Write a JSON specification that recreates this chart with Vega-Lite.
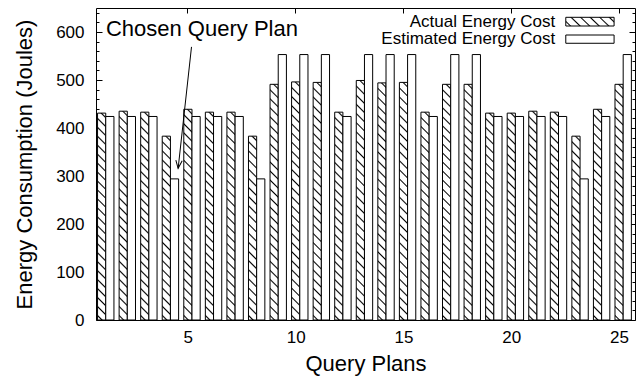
{
  "$schema": "https://vega.github.io/schema/vega-lite/v6.json",
  "width": 539,
  "height": 312,
  "autosize": {"type": "none"},
  "padding": {"left": 96, "top": 8, "right": 9, "bottom": 57},
  "background": "white",
  "config": {
    "font": "Liberation Sans",
    "view": {"stroke": "black", "strokeWidth": 1},
    "axis": {"labelFont": "Liberation Sans", "titleFont": "Liberation Sans", "labelColor": "black", "titleColor": "black", "tickColor": "black", "domain": false, "grid": false, "titleFontWeight": "normal"}
  },
  "datasets": {
    "notes": [
      {"kind": "label", "x": 1.2, "y": 606, "text": "Chosen Query Plan"},
      {"kind": "arrow", "x": 5.17, "y": 569, "x2": 4.55, "y2": 316},
      {"kind": "head", "x": 4.55, "y": 316},
      {"kind": "swatch", "series": "Actual", "x": 22.53, "x2": 24.77, "y": 612.5, "y2": 630.6},
      {"kind": "swatch", "series": "Estimated", "x": 22.53, "x2": 24.77, "y": 576.5, "y2": 593.75},
      {"kind": "legendtext", "x": 22.04, "y": 621.5, "text": "Actual Energy Cost"},
      {"kind": "legendtext", "x": 22.04, "y": 585, "text": "Estimated Energy Cost"}
    ]
  },
  "layer": [
    {
      "data": {"values": [
        {"plan": 1, "series": "Actual", "energy": 431}, {"plan": 1, "series": "Estimated", "energy": 424},
        {"plan": 2, "series": "Actual", "energy": 435}, {"plan": 2, "series": "Estimated", "energy": 424},
        {"plan": 3, "series": "Actual", "energy": 433}, {"plan": 3, "series": "Estimated", "energy": 424},
        {"plan": 4, "series": "Actual", "energy": 383}, {"plan": 4, "series": "Estimated", "energy": 294},
        {"plan": 5, "series": "Actual", "energy": 439}, {"plan": 5, "series": "Estimated", "energy": 424},
        {"plan": 6, "series": "Actual", "energy": 433}, {"plan": 6, "series": "Estimated", "energy": 424},
        {"plan": 7, "series": "Actual", "energy": 433}, {"plan": 7, "series": "Estimated", "energy": 424},
        {"plan": 8, "series": "Actual", "energy": 383}, {"plan": 8, "series": "Estimated", "energy": 294},
        {"plan": 9, "series": "Actual", "energy": 491}, {"plan": 9, "series": "Estimated", "energy": 553},
        {"plan": 10, "series": "Actual", "energy": 496}, {"plan": 10, "series": "Estimated", "energy": 553},
        {"plan": 11, "series": "Actual", "energy": 495}, {"plan": 11, "series": "Estimated", "energy": 553},
        {"plan": 12, "series": "Actual", "energy": 433}, {"plan": 12, "series": "Estimated", "energy": 424},
        {"plan": 13, "series": "Actual", "energy": 499}, {"plan": 13, "series": "Estimated", "energy": 553},
        {"plan": 14, "series": "Actual", "energy": 494}, {"plan": 14, "series": "Estimated", "energy": 553},
        {"plan": 15, "series": "Actual", "energy": 495}, {"plan": 15, "series": "Estimated", "energy": 553},
        {"plan": 16, "series": "Actual", "energy": 433}, {"plan": 16, "series": "Estimated", "energy": 424},
        {"plan": 17, "series": "Actual", "energy": 491}, {"plan": 17, "series": "Estimated", "energy": 553},
        {"plan": 18, "series": "Actual", "energy": 491}, {"plan": 18, "series": "Estimated", "energy": 553},
        {"plan": 19, "series": "Actual", "energy": 431}, {"plan": 19, "series": "Estimated", "energy": 424},
        {"plan": 20, "series": "Actual", "energy": 431}, {"plan": 20, "series": "Estimated", "energy": 424},
        {"plan": 21, "series": "Actual", "energy": 435}, {"plan": 21, "series": "Estimated", "energy": 424},
        {"plan": 22, "series": "Actual", "energy": 433}, {"plan": 22, "series": "Estimated", "energy": 424},
        {"plan": 23, "series": "Actual", "energy": 383}, {"plan": 23, "series": "Estimated", "energy": 294},
        {"plan": 24, "series": "Actual", "energy": 439}, {"plan": 24, "series": "Estimated", "energy": 424},
        {"plan": 25, "series": "Actual", "energy": 491}, {"plan": 25, "series": "Estimated", "energy": 553}
      ]},
      "mark": {"type": "bar", "stroke": "black", "strokeWidth": 1},
      "encoding": {
        "x": {"field": "plan", "type": "ordinal",
          "scale": {"paddingInner": 0.24, "paddingOuter": 0.12, "align": 0.3},
          "axis": {"orient": "top", "values": [5, 10, 15, 20, 25], "labels": false, "tickSize": -5, "bandPosition": 0.25, "title": null}},
        "xOffset": {"field": "series", "type": "nominal", "scale": {"domain": ["Actual", "Estimated"], "paddingInner": 0, "paddingOuter": 0}},
        "y": {"field": "energy", "type": "quantitative", "scale": {"domain": [0, 650], "nice": false},
          "axis": {"orient": "left", "values": [0, 100, 200, 300, 400, 500, 600],
            "tickSize": -6, "labelPadding": 18, "labelFontSize": 17,
            "title": "Energy Consumption (Joules)", "titleFontSize": 22, "titleX": -72, "titleY": 156, "titleAngle": -90, "titleBaseline": "middle", "titleAlign": "center"}},
        "fill": {
          "condition": [
            {"test": "datum.series === 'Estimated'", "value": "white"},
            {"test": "datum.energy < 400", "value": {"gradient": "linear", "x1": 1, "y1": 0, "x2": 0.95354, "y2": 1.0425, "stops": [
              {"offset": 0.0158, "color": "#fff"}, {"offset": 0.0238, "color": "#000"}, {"offset": 0.0318, "color": "#fff"},
              {"offset": 0.0634, "color": "#fff"}, {"offset": 0.0714, "color": "#000"}, {"offset": 0.0794, "color": "#fff"},
              {"offset": 0.1110, "color": "#fff"}, {"offset": 0.1190, "color": "#000"}, {"offset": 0.1270, "color": "#fff"},
              {"offset": 0.1587, "color": "#fff"}, {"offset": 0.1667, "color": "#000"}, {"offset": 0.1747, "color": "#fff"},
              {"offset": 0.2063, "color": "#fff"}, {"offset": 0.2143, "color": "#000"}, {"offset": 0.2223, "color": "#fff"},
              {"offset": 0.2539, "color": "#fff"}, {"offset": 0.2619, "color": "#000"}, {"offset": 0.2699, "color": "#fff"},
              {"offset": 0.3015, "color": "#fff"}, {"offset": 0.3095, "color": "#000"}, {"offset": 0.3175, "color": "#fff"},
              {"offset": 0.3491, "color": "#fff"}, {"offset": 0.3571, "color": "#000"}, {"offset": 0.3651, "color": "#fff"},
              {"offset": 0.3968, "color": "#fff"}, {"offset": 0.4048, "color": "#000"}, {"offset": 0.4128, "color": "#fff"},
              {"offset": 0.4444, "color": "#fff"}, {"offset": 0.4524, "color": "#000"}, {"offset": 0.4604, "color": "#fff"},
              {"offset": 0.4920, "color": "#fff"}, {"offset": 0.5000, "color": "#000"}, {"offset": 0.5080, "color": "#fff"},
              {"offset": 0.5396, "color": "#fff"}, {"offset": 0.5476, "color": "#000"}, {"offset": 0.5556, "color": "#fff"},
              {"offset": 0.5872, "color": "#fff"}, {"offset": 0.5952, "color": "#000"}, {"offset": 0.6032, "color": "#fff"},
              {"offset": 0.6349, "color": "#fff"}, {"offset": 0.6429, "color": "#000"}, {"offset": 0.6509, "color": "#fff"},
              {"offset": 0.6825, "color": "#fff"}, {"offset": 0.6905, "color": "#000"}, {"offset": 0.6985, "color": "#fff"},
              {"offset": 0.7301, "color": "#fff"}, {"offset": 0.7381, "color": "#000"}, {"offset": 0.7461, "color": "#fff"},
              {"offset": 0.7777, "color": "#fff"}, {"offset": 0.7857, "color": "#000"}, {"offset": 0.7937, "color": "#fff"},
              {"offset": 0.8253, "color": "#fff"}, {"offset": 0.8333, "color": "#000"}, {"offset": 0.8413, "color": "#fff"},
              {"offset": 0.8730, "color": "#fff"}, {"offset": 0.8810, "color": "#000"}, {"offset": 0.8890, "color": "#fff"},
              {"offset": 0.9206, "color": "#fff"}, {"offset": 0.9286, "color": "#000"}, {"offset": 0.9366, "color": "#fff"},
              {"offset": 0.9682, "color": "#fff"}, {"offset": 0.9762, "color": "#000"}, {"offset": 0.9842, "color": "#fff"}
            ]}},
            {"test": "datum.energy < 460", "value": {"gradient": "linear", "x1": 1, "y1": 0, "x2": 0.959086, "y2": 1.03781, "stops": [
              {"offset": 0.0138, "color": "#fff"}, {"offset": 0.0208, "color": "#000"}, {"offset": 0.0278, "color": "#fff"},
              {"offset": 0.0555, "color": "#fff"}, {"offset": 0.0625, "color": "#000"}, {"offset": 0.0695, "color": "#fff"},
              {"offset": 0.0972, "color": "#fff"}, {"offset": 0.1042, "color": "#000"}, {"offset": 0.1112, "color": "#fff"},
              {"offset": 0.1388, "color": "#fff"}, {"offset": 0.1458, "color": "#000"}, {"offset": 0.1528, "color": "#fff"},
              {"offset": 0.1805, "color": "#fff"}, {"offset": 0.1875, "color": "#000"}, {"offset": 0.1945, "color": "#fff"},
              {"offset": 0.2222, "color": "#fff"}, {"offset": 0.2292, "color": "#000"}, {"offset": 0.2362, "color": "#fff"},
              {"offset": 0.2638, "color": "#fff"}, {"offset": 0.2708, "color": "#000"}, {"offset": 0.2778, "color": "#fff"},
              {"offset": 0.3055, "color": "#fff"}, {"offset": 0.3125, "color": "#000"}, {"offset": 0.3195, "color": "#fff"},
              {"offset": 0.3472, "color": "#fff"}, {"offset": 0.3542, "color": "#000"}, {"offset": 0.3612, "color": "#fff"},
              {"offset": 0.3888, "color": "#fff"}, {"offset": 0.3958, "color": "#000"}, {"offset": 0.4028, "color": "#fff"},
              {"offset": 0.4305, "color": "#fff"}, {"offset": 0.4375, "color": "#000"}, {"offset": 0.4445, "color": "#fff"},
              {"offset": 0.4722, "color": "#fff"}, {"offset": 0.4792, "color": "#000"}, {"offset": 0.4862, "color": "#fff"},
              {"offset": 0.5138, "color": "#fff"}, {"offset": 0.5208, "color": "#000"}, {"offset": 0.5278, "color": "#fff"},
              {"offset": 0.5555, "color": "#fff"}, {"offset": 0.5625, "color": "#000"}, {"offset": 0.5695, "color": "#fff"},
              {"offset": 0.5972, "color": "#fff"}, {"offset": 0.6042, "color": "#000"}, {"offset": 0.6112, "color": "#fff"},
              {"offset": 0.6388, "color": "#fff"}, {"offset": 0.6458, "color": "#000"}, {"offset": 0.6528, "color": "#fff"},
              {"offset": 0.6805, "color": "#fff"}, {"offset": 0.6875, "color": "#000"}, {"offset": 0.6945, "color": "#fff"},
              {"offset": 0.7222, "color": "#fff"}, {"offset": 0.7292, "color": "#000"}, {"offset": 0.7362, "color": "#fff"},
              {"offset": 0.7638, "color": "#fff"}, {"offset": 0.7708, "color": "#000"}, {"offset": 0.7778, "color": "#fff"},
              {"offset": 0.8055, "color": "#fff"}, {"offset": 0.8125, "color": "#000"}, {"offset": 0.8195, "color": "#fff"},
              {"offset": 0.8472, "color": "#fff"}, {"offset": 0.8542, "color": "#000"}, {"offset": 0.8612, "color": "#fff"},
              {"offset": 0.8888, "color": "#fff"}, {"offset": 0.8958, "color": "#000"}, {"offset": 0.9028, "color": "#fff"},
              {"offset": 0.9305, "color": "#fff"}, {"offset": 0.9375, "color": "#000"}, {"offset": 0.9445, "color": "#fff"},
              {"offset": 0.9722, "color": "#fff"}, {"offset": 0.9792, "color": "#000"}, {"offset": 0.9862, "color": "#fff"}
            ]}}
          ],
          "value": {"gradient": "linear", "x1": 1, "y1": 0, "x2": 0.964401, "y2": 1.033227, "stops": [
            {"offset": 0.0125, "color": "#fff"}, {"offset": 0.0185, "color": "#000"}, {"offset": 0.0245, "color": "#fff"},
            {"offset": 0.0496, "color": "#fff"}, {"offset": 0.0556, "color": "#000"}, {"offset": 0.0616, "color": "#fff"},
            {"offset": 0.0866, "color": "#fff"}, {"offset": 0.0926, "color": "#000"}, {"offset": 0.0986, "color": "#fff"},
            {"offset": 0.1236, "color": "#fff"}, {"offset": 0.1296, "color": "#000"}, {"offset": 0.1356, "color": "#fff"},
            {"offset": 0.1607, "color": "#fff"}, {"offset": 0.1667, "color": "#000"}, {"offset": 0.1727, "color": "#fff"},
            {"offset": 0.1977, "color": "#fff"}, {"offset": 0.2037, "color": "#000"}, {"offset": 0.2097, "color": "#fff"},
            {"offset": 0.2347, "color": "#fff"}, {"offset": 0.2407, "color": "#000"}, {"offset": 0.2467, "color": "#fff"},
            {"offset": 0.2718, "color": "#fff"}, {"offset": 0.2778, "color": "#000"}, {"offset": 0.2838, "color": "#fff"},
            {"offset": 0.3088, "color": "#fff"}, {"offset": 0.3148, "color": "#000"}, {"offset": 0.3208, "color": "#fff"},
            {"offset": 0.3459, "color": "#fff"}, {"offset": 0.3519, "color": "#000"}, {"offset": 0.3579, "color": "#fff"},
            {"offset": 0.3829, "color": "#fff"}, {"offset": 0.3889, "color": "#000"}, {"offset": 0.3949, "color": "#fff"},
            {"offset": 0.4199, "color": "#fff"}, {"offset": 0.4259, "color": "#000"}, {"offset": 0.4319, "color": "#fff"},
            {"offset": 0.4570, "color": "#fff"}, {"offset": 0.4630, "color": "#000"}, {"offset": 0.4690, "color": "#fff"},
            {"offset": 0.4940, "color": "#fff"}, {"offset": 0.5000, "color": "#000"}, {"offset": 0.5060, "color": "#fff"},
            {"offset": 0.5310, "color": "#fff"}, {"offset": 0.5370, "color": "#000"}, {"offset": 0.5430, "color": "#fff"},
            {"offset": 0.5681, "color": "#fff"}, {"offset": 0.5741, "color": "#000"}, {"offset": 0.5801, "color": "#fff"},
            {"offset": 0.6051, "color": "#fff"}, {"offset": 0.6111, "color": "#000"}, {"offset": 0.6171, "color": "#fff"},
            {"offset": 0.6421, "color": "#fff"}, {"offset": 0.6481, "color": "#000"}, {"offset": 0.6541, "color": "#fff"},
            {"offset": 0.6792, "color": "#fff"}, {"offset": 0.6852, "color": "#000"}, {"offset": 0.6912, "color": "#fff"},
            {"offset": 0.7162, "color": "#fff"}, {"offset": 0.7222, "color": "#000"}, {"offset": 0.7282, "color": "#fff"},
            {"offset": 0.7533, "color": "#fff"}, {"offset": 0.7593, "color": "#000"}, {"offset": 0.7653, "color": "#fff"},
            {"offset": 0.7903, "color": "#fff"}, {"offset": 0.7963, "color": "#000"}, {"offset": 0.8023, "color": "#fff"},
            {"offset": 0.8273, "color": "#fff"}, {"offset": 0.8333, "color": "#000"}, {"offset": 0.8393, "color": "#fff"},
            {"offset": 0.8644, "color": "#fff"}, {"offset": 0.8704, "color": "#000"}, {"offset": 0.8764, "color": "#fff"},
            {"offset": 0.9014, "color": "#fff"}, {"offset": 0.9074, "color": "#000"}, {"offset": 0.9134, "color": "#fff"},
            {"offset": 0.9384, "color": "#fff"}, {"offset": 0.9444, "color": "#000"}, {"offset": 0.9504, "color": "#fff"},
            {"offset": 0.9755, "color": "#fff"}, {"offset": 0.9815, "color": "#000"}, {"offset": 0.9875, "color": "#fff"}
          ]}
        }
      }
    },
    {
      "data": {"name": "notes"},
      "layer": [
        {
          "transform": [{"filter": "datum.kind === 'label'"}],
          "mark": {"type": "text", "align": "left", "baseline": "middle", "fontSize": 22, "color": "black"},
          "encoding": {
            "x": {"field": "x", "type": "quantitative", "scale": {"domain": [0.74, 25.74], "nice": false, "zero": false},
              "axis": {"orient": "bottom", "values": [5, 10, 15, 20, 25], "tickSize": -5, "labelPadding": 14, "labelFontSize": 17,
                "title": "Query Plans", "titleFontSize": 22, "titleY": 43, "titleBaseline": "middle"}},
            "y": {"field": "y", "type": "quantitative", "scale": {"domain": [0, 650], "nice": false},
              "axis": {"orient": "right", "values": [0, 100, 200, 300, 400, 500, 600], "labels": false, "tickSize": -6, "title": null}},
            "text": {"field": "text"}
          }
        },
        {
          "transform": [{"filter": "datum.kind === 'arrow'"}],
          "mark": {"type": "rule", "color": "black", "strokeWidth": 1},
          "encoding": {
            "x": {"field": "x", "type": "quantitative"},
            "y": {"field": "y", "type": "quantitative"},
            "x2": {"field": "x2"},
            "y2": {"field": "y2"}
          }
        },
        {
          "transform": [{"filter": "datum.kind === 'head'"}],
          "mark": {"type": "point", "shape": "M-0.4,-1L0,0L0.4,-1", "size": 256, "angle": 6.3, "filled": false, "stroke": "black", "strokeWidth": 1, "opacity": 1},
          "encoding": {
            "x": {"field": "x", "type": "quantitative"},
            "y": {"field": "y", "type": "quantitative"}
          }
        },
        {
          "transform": [{"filter": "datum.kind === 'swatch'"}],
          "mark": {"type": "rect", "stroke": "black", "strokeWidth": 1},
          "encoding": {
            "x": {"field": "x", "type": "quantitative"},
            "x2": {"field": "x2"},
            "y": {"field": "y", "type": "quantitative"},
            "y2": {"field": "y2"},
            "fill": {
              "condition": {"test": "datum.series === 'Estimated'", "value": "white"},
              "value": {"gradient": "linear", "x1": 1, "y1": 0, "x2": -0.14717, "y2": 0.21509, "stops": [
                {"offset": 0.0573, "color": "#fff"}, {"offset": 0.0833, "color": "#000"}, {"offset": 0.1093, "color": "#fff"},
                {"offset": 0.224, "color": "#fff"}, {"offset": 0.25, "color": "#000"}, {"offset": 0.276, "color": "#fff"},
                {"offset": 0.3907, "color": "#fff"}, {"offset": 0.4167, "color": "#000"}, {"offset": 0.4427, "color": "#fff"},
                {"offset": 0.5573, "color": "#fff"}, {"offset": 0.5833, "color": "#000"}, {"offset": 0.6093, "color": "#fff"},
                {"offset": 0.724, "color": "#fff"}, {"offset": 0.75, "color": "#000"}, {"offset": 0.776, "color": "#fff"},
                {"offset": 0.8907, "color": "#fff"}, {"offset": 0.9167, "color": "#000"}, {"offset": 0.9427, "color": "#fff"}
              ]}
            }
          }
        },
        {
          "transform": [{"filter": "datum.kind === 'legendtext'"}],
          "mark": {"type": "text", "align": "right", "baseline": "middle", "fontSize": 17, "color": "black"},
          "encoding": {
            "x": {"field": "x", "type": "quantitative"},
            "y": {"field": "y", "type": "quantitative"},
            "text": {"field": "text"}
          }
        }
      ]
    },
    {
      "data": {"name": "notes"},
      "transform": [{"filter": "datum.kind === 'head'"}],
      "mark": {"type": "point", "opacity": 0},
      "encoding": {
        "y": {"field": "y", "type": "quantitative",
          "axis": {"orient": "left", "values": [20,40,60,80,120,140,160,180,220,240,260,280,320,340,360,380,420,440,460,480,520,540,560,580,620,640], "labels": false, "tickSize": -3, "title": null}}
      }
    },
    {
      "data": {"name": "notes"},
      "transform": [{"filter": "datum.kind === 'head'"}],
      "mark": {"type": "point", "opacity": 0},
      "encoding": {
        "y": {"field": "y", "type": "quantitative",
          "axis": {"orient": "right", "values": [20,40,60,80,120,140,160,180,220,240,260,280,320,340,360,380,420,440,460,480,520,540,560,580,620,640], "labels": false, "tickSize": -3, "title": null}}
      }
    }
  ],
  "resolve": {"scale": {"x": "independent"}, "axis": {"y": "independent"}}
}
